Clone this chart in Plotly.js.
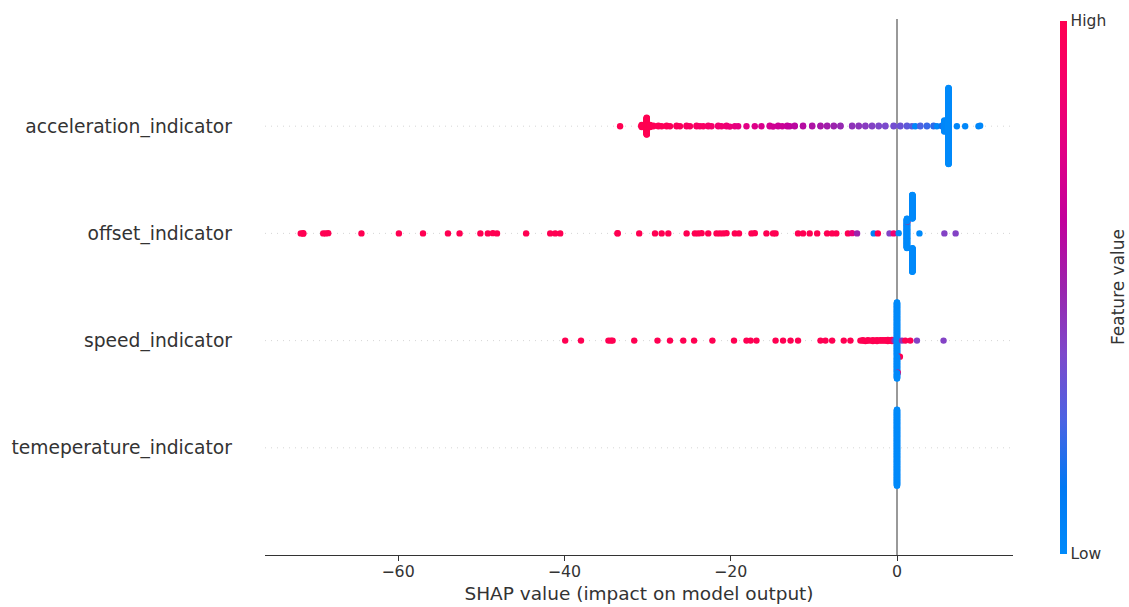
<!DOCTYPE html>
<html>
<head>
<meta charset="utf-8">
<script src="https://cdn.plot.ly/plotly-3.0.1.min.js"></script>
<style>html,body{margin:0;padding:0;background:#fff;}#chart{width:1129px;height:607px;}</style>
</head>
<body>
<div id="chart"></div>
<script>
// Feature names, bottom to top (y position 0..3)
const features = ['temeperature_indicator', 'speed_indicator', 'offset_indicator', 'acceleration_indicator'];
const xTicks = [-60, -40, -20, 0];

// acceleration_indicator: SHAP value, feature value (0 low .. 1 high), number of samples
const acc_shap = [-33.3, -30.7, -30.1, -29.7, -29.3, -28.7, -28.3, -27.7, -27.3, -26.5, -26.1, -25.3, -24.9, -24.1, -23.7, -23.3, -22.7, -22.3, -21.5, -21.1, -20.5, -20.1, -19.5, -19.1, -18.1, -17.1, -16.3, -15.3, -14.9, -14.3, -13.8, -13.2, -12.9, -12.3, -11.3, -10.2, -9.2, -8.4, -7.6, -6.8, -5.4, -4.6, -3.8, -3.0, -2.2, -1.4, -0.4, 0.4, 1.2, 1.8, 2.2, 2.8, 3.6, 4.4, 4.8, 5.4, 5.7, 6.2, 7.2, 8.2, 9.8, 10.0];
const acc_feat = [1.0, 1.0, 1.0, 1.0, 0.98, 0.98, 0.97, 0.97, 0.96, 0.95, 0.95, 0.93, 0.93, 0.92, 0.9, 0.92, 0.9, 0.88, 0.86, 0.85, 0.84, 0.82, 0.8, 0.78, 0.76, 0.74, 0.72, 0.7, 0.68, 0.67, 0.66, 0.64, 0.62, 0.6, 0.58, 0.56, 0.54, 0.52, 0.5, 0.48, 0.45, 0.44, 0.42, 0.4, 0.38, 0.37, 0.35, 0.33, 0.3, 0.28, 0.02, 0.25, 0.22, 0.2, 0.02, 0.15, 0.02, 0.0, 0.02, 0.02, 0.02, 0.02];
const acc_count = [1, 6, 45, 6, 2, 2, 1, 2, 1, 2, 1, 2, 1, 2, 1, 1, 2, 1, 2, 1, 2, 1, 1, 1, 1, 1, 1, 2, 1, 2, 1, 2, 1, 2, 2, 2, 2, 2, 2, 2, 2, 2, 2, 2, 2, 2, 2, 2, 2, 1, 1, 2, 2, 2, 1, 2, 30, 200, 1, 1, 1, 1];

// offset_indicator
const off_shap = [-71.7, -71.4, -69.0, -68.7, -68.4, -64.4, -59.9, -57.0, -54.0, -52.6, -50.1, -49.2, -48.6, -48.1, -44.6, -41.7, -41.1, -40.5, -33.6, -31.0, -29.1, -28.3, -27.5, -25.3, -24.3, -23.9, -23.5, -22.7, -21.7, -21.3, -20.9, -20.5, -19.5, -19.0, -17.5, -17.1, -15.7, -14.9, -14.6, -11.9, -11.3, -10.5, -9.6, -8.4, -7.8, -7.3, -5.9, -5.4, -4.8, -2.8, -2.3, -0.9, -0.4, 0.2, 1.2, 1.25, 1.2, 1.85, 2.7, 5.7, 7.05];
const off_feat = [1, 1, 1, 1, 1, 1, 1, 1, 1, 1, 1, 1, 1, 1, 1, 1, 1, 1, 1, 1, 1, 1, 1, 1, 1, 1, 1, 1, 1, 1, 1, 1, 1, 1, 1, 1, 1, 1, 1, 1, 1, 1, 1, 1, 1, 1, 1, 0.8, 0.5, 0.05, 1, 0.4, 0.85, 0.0, 0.0, 1.0, 0.0, 0.0, 0.0, 0.4, 0.4];
const off_count = [1, 2, 1, 1, 1, 1, 1, 1, 1, 1, 1, 1, 1, 1, 1, 1, 1, 1, 2, 1, 1, 1, 1, 1, 1, 1, 1, 1, 1, 1, 1, 1, 1, 1, 1, 1, 1, 1, 1, 1, 1, 1, 1, 1, 1, 1, 1, 1, 1, 1, 1, 1, 1, 1, 99, 1, 25, 200, 1, 1, 1];

// speed_indicator
const spd_shap = [-39.9, -38.0, -34.7, -34.4, -34.2, -31.6, -28.8, -27.3, -25.7, -24.4, -22.2, -19.6, -18.1, -17.6, -16.9, -14.6, -13.7, -12.8, -11.9, -9.2, -8.6, -7.8, -6.4, -5.6, -4.4, -4.1, -3.8, -3.5, -3.2, -2.9, -2.6, -2.4, -2.0, -1.7, -1.4, -1.1, -0.8, -0.6, -0.3, 0.0, 0.35, 0.0, 0.1, 0.0, 0.6, 1.0, 1.6, 2.4, 5.6];
const spd_feat = [1, 1, 1, 1, 1, 1, 1, 1, 1, 1, 1, 1, 1, 1, 1, 1, 1, 1, 1, 1, 1, 1, 1, 1, 1, 1, 1, 1, 1, 1, 1, 1, 1, 1, 1, 1, 1, 1, 0.45, 0.0, 1.0, 0.0, 0.85, 0.0, 0.45, 1.0, 1.0, 0.4, 0.4];
const spd_count = [1, 1, 1, 1, 1, 1, 1, 1, 1, 1, 1, 1, 1, 1, 1, 1, 1, 1, 1, 1, 1, 1, 1, 1, 1, 2, 1, 2, 1, 2, 1, 2, 2, 2, 2, 2, 2, 2, 1, 84, 1, 83, 1, 31, 1, 1, 1, 1, 1];

// temeperature_indicator
const tmp_shap = [0.0];
const tmp_feat = [0.0];
const tmp_count = [200];

// shap red_blue colormap (LCH interpolation with darker middle, sampled)
const redBlue = [
  [0, 'rgb(0,138,250)'], [0.125, 'rgb(0,120,243)'], [0.25, 'rgb(75,99,227)'],
  [0.375, 'rgb(125,73,203)'], [0.5, 'rgb(155,36,173)'], [0.625, 'rgb(194,0,156)'],
  [0.75, 'rgb(224,0,134)'], [0.875, 'rgb(245,0,108)'], [1, 'rgb(255,0,82)']
];

// beeswarm layout as in shap.summary_plot (deterministic order within a bin)
function swarm(shap, feat, count, pos) {
  const xs = [], cs = [];
  shap.forEach((v, i) => { for (let k = 0; k < count[i]; k++) { xs.push(v); cs.push(feat[i]); } });
  const N = xs.length;
  const mn = Math.min(...xs), mx = Math.max(...xs);
  const quant = xs.map(v => Math.round(100 * (v - mn) / (mx - mn + 1e-8)));
  const inds = xs.map((_, i) => i).sort((a, b) => (quant[a] - quant[b]) || (a - b));
  const ys = new Array(N).fill(0);
  let layer = 0, last = -1;
  inds.forEach(ind => {
    if (quant[ind] !== last) layer = 0;
    ys[ind] = Math.ceil(layer / 2) * ((layer % 2) * 2 - 1);
    layer += 1; last = quant[ind];
  });
  const m = Math.max(...ys.map(y => y + 1));
  const f = 0.9 * (0.4 / m);
  return { x: xs, y: ys.map(y => pos + y * f), c: cs };
}

const groups = [
  swarm(tmp_shap, tmp_feat, tmp_count, 0),
  swarm(spd_shap, spd_feat, spd_count, 1),
  swarm(off_shap, off_feat, off_count, 2),
  swarm(acc_shap, acc_feat, acc_count, 3)
];

const traces = groups.map((g, i) => ({
  type: 'scatter', mode: 'markers', x: g.x, y: g.y, hoverinfo: 'skip',
  marker: {
    size: 6.4, color: g.c, colorscale: redBlue, cmin: 0, cmax: 1, line: { width: 0 },
    showscale: i === 0,
    colorbar: {
      thickness: 7, thicknessmode: 'pixels', len: 533, lenmode: 'pixels',
      x: 1.0628, xanchor: 'left', xpad: 0, y: 0.5, yanchor: 'middle', ypad: 0,
      outlinewidth: 0, tickvals: [0, 1], ticktext: ['Low', 'High'], ticks: '',
      tickfont: { size: 15.5, color: '#333333' }
    }
  },
  showlegend: false
}));

const shapes = [];
features.forEach((_, i) => shapes.push({
  type: 'line', xref: 'paper', x0: 0, x1: 1, yref: 'y', y0: i, y1: i, layer: 'below',
  line: { color: '#cccccc', width: 0.8, dash: '1px,5px' }
}));
shapes.push({ type: 'line', xref: 'x', x0: 0, x1: 0, yref: 'paper', y0: 0, y1: 1, layer: 'below',
  line: { color: '#999999', width: 2 } });

const layout = {
  width: 1129, height: 607,
  margin: { l: 265, r: 116, t: 19, b: 52 },
  paper_bgcolor: '#ffffff', plot_bgcolor: '#ffffff',
  font: { family: 'DejaVu Sans', color: '#333333' },
  xaxis: {
    range: [-76.0, 13.95], tickvals: xTicks, showgrid: false, zeroline: false,
    showline: true, linecolor: '#333333', linewidth: 1,
    ticks: 'outside', ticklen: 5, tickwidth: 1, tickcolor: '#333333',
    ticklabelstandoff: -3,
    tickfont: { size: 15.8, color: '#333333' },
    title: { text: 'SHAP value (impact on model output)', font: { size: 18.5, color: '#333333' }, standoff: 7 },
    automargin: false
  },
  yaxis: {
    range: [-1, 4], tickvals: [0, 1, 2, 3], ticktext: features, showgrid: false, zeroline: false,
    showline: false, ticks: '', ticklabelstandoff: 32, tickfont: { size: 18.7, color: '#333333' },
    automargin: false
  },
  shapes: shapes,
  annotations: [{
    text: 'Feature value', xref: 'paper', yref: 'paper', x: 1.1404, y: 0.5, xanchor: 'center', yanchor: 'middle',
    textangle: -90, showarrow: false, font: { size: 17, color: '#333333' }
  }]
};

Plotly.newPlot('chart', traces, layout, { displayModeBar: false, staticPlot: true });
</script>
</body>
</html>
